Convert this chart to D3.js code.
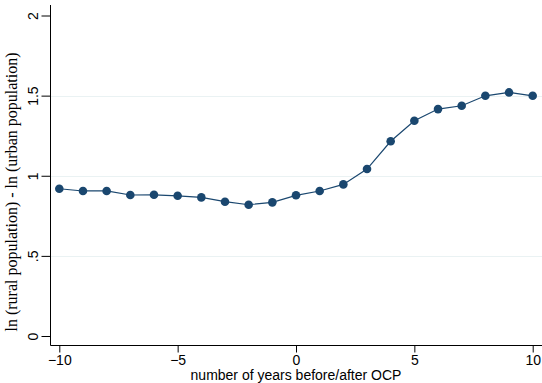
<!DOCTYPE html>
<html>
<head>
<meta charset="utf-8">
<script src="https://cdn.jsdelivr.net/npm/d3@7"></script>
<style>
	body { margin: 0; background: #fff; }
	svg { display: block; }
	.tick text { font-family: "Liberation Sans", Arial, sans-serif; font-size: 14px; fill: #000; }
</style>
</head>
<body>
<div id="chart"></div>
<script>
// years relative to OCP, and ln(rural) - ln(urban)
var years = [-10, -9, -8, -7, -6, -5, -4, -3, -2, -1, 0, 1, 2, 3, 4, 5, 6, 7, 8, 9, 10];
var gap = [0.919, 0.905, 0.905, 0.880, 0.881, 0.875, 0.865, 0.838, 0.819, 0.834, 0.878,
	0.905, 0.946, 1.042, 1.215, 1.343, 1.416, 1.437, 1.499, 1.520, 1.499];
var xTicks = [-10, -5, 0, 5, 10];
var yTicks = [0, 0.5, 1, 1.5, 2];
var gridTicks = [0.5, 1, 1.5];

var width = 542, height = 383;
var axisLeft = 50.5, axisBottom = 345.5;

var svg = d3.select("#chart").append("svg")
	.attr("width", width)
	.attr("height", height);

var x = d3.scaleLinear().domain([-10, 10]).range([59.3, 532.7]);
var y = d3.scaleLinear().domain([0, 2]).range([336, 15.5]);

// gridlines
svg.append("g")
	.selectAll("line")
	.data(gridTicks)
	.enter().append("line")
	.attr("x1", axisLeft)
	.attr("x2", width)
	.attr("y1", function(d) { return Math.round(y(d)) + 0.5; })
	.attr("y2", function(d) { return Math.round(y(d)) + 0.5; })
	.attr("stroke", "#eaf2f3")
	.attr("stroke-width", 1.2);

// y axis
var yAxis = svg.append("g")
	.attr("transform", "translate(" + axisLeft + ",0)")
	.call(d3.axisLeft(y).tickValues(yTicks).tickSize(9)
		.tickFormat(function(d) { return d == 0.5 ? ".5" : d3.format("")(d); }));
yAxis.select(".domain").remove();
yAxis.append("line")
	.attr("y1", 5).attr("y2", axisBottom)
	.attr("stroke", "#000");
yAxis.selectAll(".tick text")
	.attr("x", 0).attr("dy", 0)
	.attr("text-anchor", "middle")
	.attr("transform", "translate(-13,0) rotate(-90)");

// x axis
var xAxis = svg.append("g")
	.attr("transform", "translate(0," + axisBottom + ")")
	.call(d3.axisBottom(x).tickValues(xTicks).tickSize(7).tickPadding(3)
		.tickFormat(d3.format("")));
xAxis.select(".domain").remove();
xAxis.append("line")
	.attr("x1", axisLeft).attr("x2", width)
	.attr("stroke", "#000");

// titles
svg.append("text")
	.attr("transform", "translate(17,192) rotate(-90)")
	.attr("text-anchor", "middle")
	.style("font-family", "'Liberation Serif', 'Times New Roman', serif")
	.style("font-size", "16px")
	.text("ln (rural population) - ln (urban population)");

svg.append("text")
	.attr("x", 296)
	.attr("y", 380)
	.attr("text-anchor", "middle")
	.style("font-family", "'Liberation Sans', Arial, sans-serif")
	.style("font-size", "14px")
	.text("number of years before/after OCP");

// series
var points = years.map(function(d, i) { return [d, gap[i]]; });

svg.append("path")
	.datum(points)
	.attr("fill", "none")
	.attr("stroke", "#1a476f")
	.attr("stroke-width", 1.2)
	.attr("d", d3.line()
		.x(function(d) { return x(d[0]); })
		.y(function(d) { return y(d[1]); }));

svg.append("g")
	.selectAll("circle")
	.data(points)
	.enter().append("circle")
	.attr("cx", function(d) { return x(d[0]); })
	.attr("cy", function(d) { return y(d[1]); })
	.attr("r", 4.3)
	.attr("fill", "#1a476f");
</script>
</body>
</html>
